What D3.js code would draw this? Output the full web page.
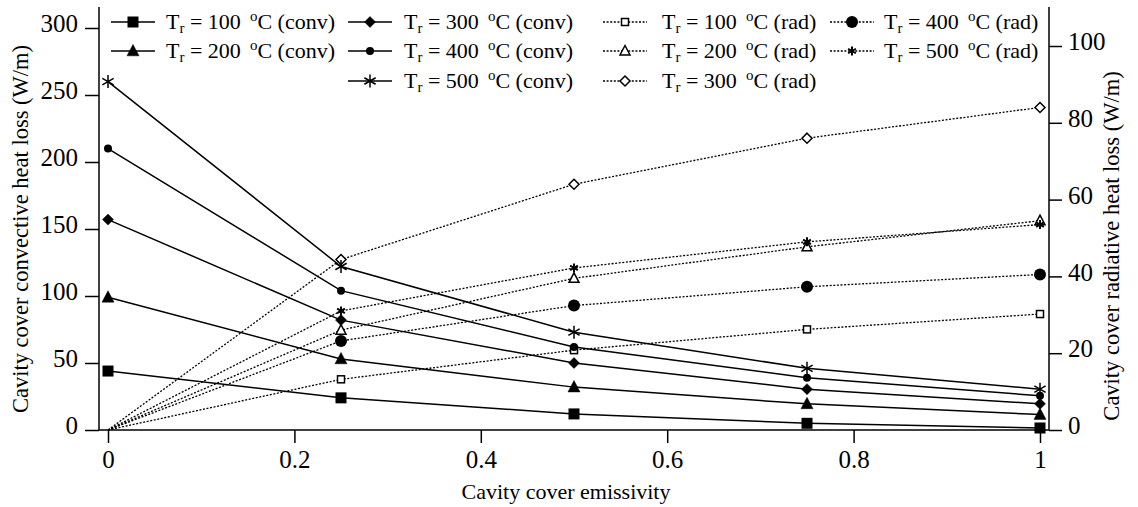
<!DOCTYPE html>
<html>
<head>
<meta charset="utf-8">
<script src="https://cdn.jsdelivr.net/npm/d3@7"></script>
<style>
  body { margin: 0; background: #fff; }
</style>
</head>
<body>
<div id="vis"></div>
<script>
// data
const emissivity = [0, 0.25, 0.5, 0.75, 1];
const temps = [100, 200, 300, 400, 500];

const conv100 = [44, 24, 12, 5, 1.5];
const conv200 = [99, 53, 32, 19.5, 11.5];
const conv300 = [157, 82, 50, 30.5, 19.5];
const conv400 = [210, 104, 62, 39, 25.5];
const conv500 = [260, 122, 73, 46, 30.5];

const rad100 = [0, 13.2, 20.8, 26.2, 30.2];
const rad200 = [0, 26, 39.5, 47.7, 54.5];
const rad300 = [0, 44.4, 64, 76, 84];
const rad400 = [0, 23.2, 32.4, 37.3, 40.5];
const rad500 = [0, 31, 42.2, 49, 53.5];

const leftTicks = [0, 50, 100, 150, 200, 250, 300];
const rightTicks = [0, 20, 40, 60, 80, 100];
const xTicks = [0, 0.2, 0.4, 0.6, 0.8, 1];

const svgWidth = 1138,
  svgHeight = 507,
  axisL = 99,
  axisR = 1049,
  axisTop = 7,
  axisBottom = 430,
  fontSize = 22,
  tickFont = 25,
  serif = '"Liberation Serif"';

const x = d3.scaleLinear().domain([0, 1]).range([108, 1040]);
const yL = d3.scaleLinear().domain([0, 300]).range([axisBottom, 28]);
const yR = d3.scaleLinear().domain([0, 100]).range([axisBottom, 46]);

const svg = d3
  .select("#vis")
  .append("svg")
  .attr("width", svgWidth)
  .attr("height", svgHeight);

// text helper so every label carries the font itself
function txt(sel, size) {
  return sel
    .style("font-family", serif)
    .style("font-size", size + "px")
    .attr("fill", "#000");
}

// marker shapes
function marker(g, kind, size) {
  const s = size / 2;
  if (kind === "square") {
    g.append("rect").attr("x", -s).attr("y", -s).attr("width", size).attr("height", size)
      .attr("fill", "#000");
  } else if (kind === "osquare") {
    g.append("rect").attr("x", -s).attr("y", -s).attr("width", size).attr("height", size)
      .attr("fill", "#fff").attr("stroke", "#000").attr("stroke-width", 1.5);
  } else if (kind === "triangle" || kind === "otriangle") {
    g.append("path")
      .attr("d", `M0,${-s * 1.1}L${s},${s * 0.8}L${-s},${s * 0.8}Z`)
      .attr("fill", kind === "triangle" ? "#000" : "#fff")
      .attr("stroke", "#000").attr("stroke-width", kind === "triangle" ? 0.5 : 1.5);
  } else if (kind === "diamond" || kind === "odiamond") {
    g.append("path")
      .attr("d", `M0,${-s}L${s},0L0,${s}L${-s},0Z`)
      .attr("fill", kind === "diamond" ? "#000" : "#fff")
      .attr("stroke", "#000").attr("stroke-width", kind === "diamond" ? 0.5 : 1.5);
  } else if (kind === "circle") {
    g.append("circle").attr("r", s).attr("fill", "#000");
  } else if (kind === "star" || kind === "sstar") {
    const w = kind === "star" ? 1.5 : 2;
    const p = d3.path();
    p.moveTo(0, -s); p.lineTo(0, s);
    const a = s * Math.cos(Math.PI / 6), b = s * Math.sin(Math.PI / 6);
    p.moveTo(-a, -b); p.lineTo(a, b);
    p.moveTo(-a, b); p.lineTo(a, -b);
    g.append("path").attr("d", p.toString()).attr("stroke", "#000")
      .attr("stroke-width", w).attr("fill", "none");
  }
}

const convSeries = [
  { t: 100, v: conv100, m: "square", size: 11 },
  { t: 200, v: conv200, m: "triangle", size: 12 },
  { t: 300, v: conv300, m: "diamond", size: 11 },
  { t: 400, v: conv400, m: "circle", size: 8 },
  { t: 500, v: conv500, m: "star", size: 13 },
];
const radSeries = [
  { t: 100, v: rad100, m: "osquare", size: 7 },
  { t: 200, v: rad200, m: "otriangle", size: 10 },
  { t: 300, v: rad300, m: "odiamond", size: 10 },
  { t: 400, v: rad400, m: "circle", size: 12 },
  { t: 500, v: rad500, m: "sstar", size: 9 },
];

const dash = "2,1.6";

// radiative lines (right axis)
const lineR = d3.line().x((d, i) => x(emissivity[i])).y(d => yR(d));
svg.selectAll(".rad")
  .data(radSeries)
  .enter()
  .append("path")
  .attr("class", "rad")
  .attr("d", d => lineR(d.v))
  .attr("fill", "none")
  .attr("stroke", "#000")
  .attr("stroke-width", 1.3)
  .attr("stroke-dasharray", dash);

// convective lines (left axis)
const lineL = d3.line().x((d, i) => x(emissivity[i])).y(d => yL(d));
svg.selectAll(".conv")
  .data(convSeries)
  .enter()
  .append("path")
  .attr("class", "conv")
  .attr("d", d => lineL(d.v))
  .attr("fill", "none")
  .attr("stroke", "#000")
  .attr("stroke-width", 1.5);

// markers
radSeries.forEach(s => {
  s.v.forEach((v, i) => {
    if (i === 0) return; // origin has no visible marker
    const g = svg.append("g").attr("transform", `translate(${x(emissivity[i])},${yR(v)})`);
    marker(g, s.m, s.size);
  });
});
convSeries.forEach(s => {
  s.v.forEach((v, i) => {
    const g = svg.append("g").attr("transform", `translate(${x(emissivity[i])},${yL(v)})`);
    marker(g, s.m, s.size);
  });
});

// axes
function styleAxis(g) {
  g.attr("font-family", null).attr("font-size", null);
  g.select(".domain").remove();
  g.selectAll(".tick line").attr("stroke", "#000").attr("stroke-width", 1.5);
  txt(g.selectAll(".tick text"), tickFont);
}

svg.append("g")
  .attr("transform", `translate(${axisL},0)`)
  .call(d3.axisLeft(yL).tickValues(leftTicks).tickSize(14).tickPadding(7).tickFormat(d3.format("d")))
  .call(styleAxis)
  .selectAll(".tick text").attr("dy", "0.15em");

svg.append("g")
  .attr("transform", `translate(${axisR},0)`)
  .call(d3.axisRight(yR).tickValues(rightTicks).tickSize(13).tickPadding(6).tickFormat(d3.format("d")))
  .call(styleAxis)
  .selectAll(".tick text").attr("dy", "0.15em");

svg.append("g")
  .attr("transform", `translate(0,${axisBottom})`)
  .call(d3.axisBottom(x).tickValues(xTicks).tickSize(13).tickPadding(7).tickFormat(d => d === 0 || d === 1 ? d : d3.format(".1f")(d)))
  .call(styleAxis);

svg.append("line").attr("x1", axisL).attr("x2", axisL).attr("y1", axisTop).attr("y2", axisBottom)
  .attr("stroke", "#000").attr("stroke-width", 1.5);
svg.append("line").attr("x1", axisR).attr("x2", axisR).attr("y1", axisTop).attr("y2", axisBottom)
  .attr("stroke", "#000").attr("stroke-width", 1.5);
svg.append("line").attr("x1", axisL).attr("x2", axisR).attr("y1", axisBottom).attr("y2", axisBottom)
  .attr("stroke", "#000").attr("stroke-width", 1.5);

// axis titles
svg.append("text")
  .attr("transform", "translate(28,229) rotate(-90)")
  .attr("text-anchor", "middle")
  .call(txt, 22.5)
  .text("Cavity cover convective heat loss (W/m)");

svg.append("text")
  .attr("transform", "translate(1119,246) rotate(-90)")
  .attr("text-anchor", "middle")
  .call(txt, 22.5)
  .text("Cavity cover radiative heat loss (W/m)");

svg.append("text")
  .attr("x", (x(0) + x(1)) / 2 - 8)
  .attr("y", 499)
  .attr("text-anchor", "middle")
  .call(txt, fontSize)
  .text("Cavity cover emissivity");

// legends
const rowY = [22, 51, 81];
const legendItems = [
  { s: convSeries[0], kind: "conv", lx: 111, tx: 166, row: 0 },
  { s: convSeries[1], kind: "conv", lx: 111, tx: 166, row: 1 },
  { s: convSeries[2], kind: "conv", lx: 348, tx: 404, row: 0 },
  { s: convSeries[3], kind: "conv", lx: 348, tx: 404, row: 1 },
  { s: convSeries[4], kind: "conv", lx: 348, tx: 404, row: 2 },
  { s: radSeries[0], kind: "rad", lx: 603, tx: 662, row: 0 },
  { s: radSeries[1], kind: "rad", lx: 603, tx: 662, row: 1 },
  { s: radSeries[2], kind: "rad", lx: 603, tx: 662, row: 2 },
  { s: radSeries[3], kind: "rad", lx: 830, tx: 884, row: 0 },
  { s: radSeries[4], kind: "rad", lx: 830, tx: 884, row: 1 },
];

legendItems.forEach(d => {
  const y = rowY[d.row];
  const len = 44;
  svg.append("line")
    .attr("x1", d.lx).attr("x2", d.lx + len).attr("y1", y).attr("y2", y)
    .attr("stroke", "#000")
    .attr("stroke-width", d.kind === "conv" ? 1.5 : 1.3)
    .attr("stroke-dasharray", d.kind === "conv" ? null : dash);
  const g = svg.append("g").attr("transform", `translate(${d.lx + len / 2},${y})`);
  marker(g, d.s.m, d.s.size);
  const t = svg.append("text")
    .attr("x", d.tx).attr("y", y + 7)
    .call(txt, fontSize);
  t.append("tspan").text("T");
  t.append("tspan").style("font-size", "15px").attr("dy", 4).text("r");
  t.append("tspan").attr("dy", -4).text(` = ${d.s.t}`);
  t.append("tspan").style("font-size", "15px").attr("dx", 9).attr("dy", -8).text("o");
  t.append("tspan").attr("dy", 8).text(`C (${d.kind})`);
});
</script>
</body>
</html>
